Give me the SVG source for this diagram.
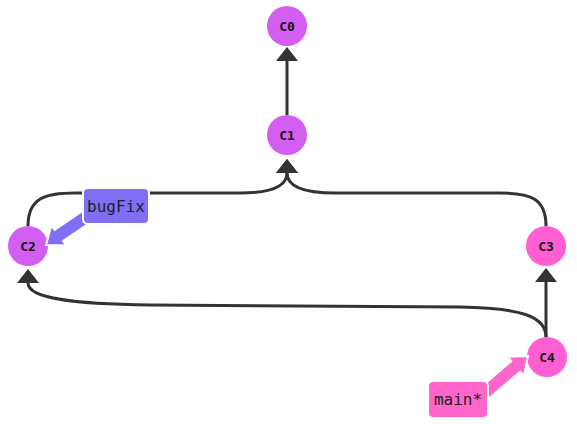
<svg xmlns="http://www.w3.org/2000/svg" width="577" height="424" viewBox="0 0 577 424">
<style>
.edge{fill:none;stroke:#333;stroke-width:3}
.cm{stroke:none}
.ca{fill:#d35ef2}
.cb{fill:#ff5fd3}
.ct{font-family:"DejaVu Sans Mono",monospace;font-weight:bold;font-size:13px;fill:#111;text-anchor:middle;dominant-baseline:central}
.lt{font-family:"DejaVu Sans Mono","Liberation Mono",monospace;font-size:16px;fill:#222;text-anchor:middle;dominant-baseline:central}
.lb{stroke:#fff;stroke-width:2}
.bf{fill:#7f6ff5}
.mn{fill:#ff66cc}
</style>
<defs>
<marker id="ah" markerWidth="14" markerHeight="22" refX="0" refY="11" orient="auto" markerUnits="userSpaceOnUse" viewBox="0 0 14 22" overflow="visible">
<path d="M0,0 L14,11 L0,22 Z" fill="#333"/>
</marker>
</defs>
<g id="connectors">
<path class="edge" d="M287 115 L287 61" marker-end="url(#ah)"/>
<path class="edge" d="M28 226 C28 198 45 193 75 193 L240 193 C272 193 287 186 287 173" marker-end="url(#ah)"/>
<path class="edge" d="M546 226 C546 198 530 193 500 193 L335 193 C302 193 287 186 287 173" marker-end="url(#ah)"/>
<path class="edge" d="M546 337 L546 282" marker-end="url(#ah)"/>
<path class="edge" d="M546 337 C546 316 520 308 460 307 L150 305 C70 304 28 298 28 283" marker-end="url(#ah)"/>
</g>
<g id="C0"><circle class="cm ca" cx="287" cy="26" r="20"/><text class="ct" x="287" y="26">C0</text></g>
<g id="C1"><circle class="cm ca" cx="287" cy="135" r="20"/><text class="ct" x="287" y="135">C1</text></g>
<g id="C2"><circle class="cm ca" cx="28" cy="246" r="20"/><text class="ct" x="28" y="246">C2</text></g>
<g id="C3"><circle class="cm cb" cx="546" cy="246" r="20"/><text class="ct" x="546" y="246">C3</text></g>
<g id="C4"><circle class="cm cb" cx="547" cy="357" r="20"/><text class="ct" x="547" y="357">C4</text></g>
<g id="bugFix">
<polygon class="lb bf" points="96.2,218.6 63,241 66.3,245.4 46,245 51.3,225.4 54.6,229.8 87.8,207.4"/>
<rect class="lb bf" x="83" y="188" width="66" height="36" rx="5"/>
<text class="lt" x="116" y="206">bugFix</text>
</g>
<g id="main">
<polygon class="lb mn" points="484.5,402.3 520.3,371.6 523.9,375.9 528,356 507.7,356.8 511.3,361 475.5,391.7"/>
<rect class="lb mn" x="428" y="381" width="60" height="37" rx="5"/>
<text class="lt" x="458" y="399.5">main*</text>
</g>
</svg>
